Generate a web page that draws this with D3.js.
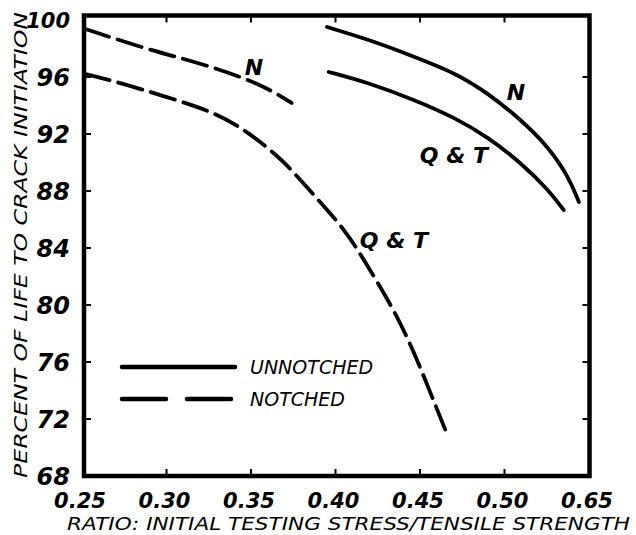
<!DOCTYPE html>
<html>
<head>
<meta charset="utf-8">
<script src="https://cdn.jsdelivr.net/npm/d3@7"></script>
<style>
  html, body { margin: 0; padding: 0; background: #fff; }
  svg text { font-family: "DejaVu Sans", sans-serif; font-style: italic; fill: #000; }
</style>
</head>
<body>
<svg id="chart" width="636" height="535"></svg>
<script>
// Stress ratio (initial testing stress / tensile strength)
const notchedN_x   = [0.252, 0.290, 0.320, 0.355, 0.374];
const notchedN_y   = [99.37, 97.89, 96.98, 95.58, 94.18];

const notchedQT_x  = [0.252, 0.271, 0.300, 0.330, 0.349, 0.369, 0.386, 0.406, 0.419, 0.434, 0.446, 0.456, 0.465];
const notchedQT_y  = [96.21, 95.65, 94.60, 93.47, 92.07, 90.18, 87.86, 85.26, 82.74, 79.79, 76.84, 73.89, 71.23];

const unnotchedN_x  = [0.395, 0.424, 0.447, 0.471, 0.490, 0.510, 0.526, 0.538, 0.544];
const unnotchedN_y  = [99.51, 98.46, 97.40, 96.28, 94.88, 92.98, 91.09, 88.98, 87.23];

const unnotchedQT_x = [0.396, 0.418, 0.447, 0.471, 0.490, 0.510, 0.526, 0.535];
const unnotchedQT_y = [96.35, 95.65, 94.39, 93.12, 91.79, 89.96, 88.07, 86.67];

// Axis ticks and their printed labels
const xTickValues = [0.25, 0.30, 0.35, 0.40, 0.45, 0.50, 0.55];
const xTickLabels = ["0.25", "0.30", "0.35", "0.40", "0.45", "0.50", "0.65"];
const yTickValues = [68, 72, 76, 80, 84, 88, 92, 96, 100];

const legendLabels = ["UNNOTCHED", "NOTCHED"];

const svg = d3.select("#chart");

const x = d3.scaleLinear().domain([0.25, 0.55]).range([82, 589]);
const y = d3.scaleLinear().domain([68, 100]).range([476, 20]);

const zip = (xs, ys) => xs.map((v, i) => [v, ys[i]]);
const line = d3.line().x(d => x(d[0])).y(d => y(d[1])).curve(d3.curveBasis);

// Frame
const fl = x(0.25) + 2, fr = x(0.55) + 0.5, ft = y(100) - 4.5, fb = y(68);
svg.append("path")
  .attr("d", `M${fl},${ft}H${fr}V${fb}H${fl}Z`)
  .attr("fill", "none").attr("stroke", "#000").attr("stroke-width", 4.5)
  .attr("stroke-linejoin", "miter");

// Inward tick marks on all four sides
const tickLen = 7;
const innerX = xTickValues.slice(1, -1);
const innerY = yTickValues.slice(1, -1);
const tg = svg.append("g").attr("stroke", "#000").attr("stroke-width", 2);
innerX.forEach(v => {
  tg.append("line").attr("x1", x(v)).attr("x2", x(v)).attr("y1", fb).attr("y2", fb - tickLen);
  tg.append("line").attr("x1", x(v)).attr("x2", x(v)).attr("y1", ft).attr("y2", ft + tickLen);
});
innerY.forEach(v => {
  tg.append("line").attr("y1", y(v)).attr("y2", y(v)).attr("x1", fl).attr("x2", fl + tickLen);
  tg.append("line").attr("y1", y(v)).attr("y2", y(v)).attr("x1", fr).attr("x2", fr - tickLen);
});

// Y tick labels
svg.append("g").selectAll("text").data(yTickValues).join("text")
  .attr("x", 70).attr("y", d => y(d))
  .attr("dy", "0.36em")
  .attr("text-anchor", "end")
  .attr("font-size", d => d === 100 ? 21 : 24)
  .attr("font-weight", "bold")
  .text(d => d);

// X tick labels
svg.append("g").selectAll("text").data(xTickValues).join("text")
  .attr("x", d => x(d) - 2).attr("y", 508)
  .attr("text-anchor", "middle")
  .attr("font-size", 21)
  .attr("font-weight", "bold")
  .text((d, i) => xTickLabels[i]);

// Axis titles
svg.append("text")
  .attr("x", 67).attr("y", 530)
  .attr("font-size", 18)
  .attr("textLength", 563).attr("lengthAdjust", "spacingAndGlyphs")
  .text("RATIO: INITIAL TESTING STRESS/TENSILE STRENGTH");

svg.append("text")
  .attr("transform", "translate(27,478) rotate(-90)")
  .attr("font-size", 18)
  .attr("textLength", 466).attr("lengthAdjust", "spacingAndGlyphs")
  .text("PERCENT OF LIFE TO CRACK INITIATION");

// Curves
const curveDash = "25,9";
const series = [
  { pts: zip(notchedN_x, notchedN_y), dash: curveDash },
  { pts: zip(notchedQT_x, notchedQT_y), dash: curveDash },
  { pts: zip(unnotchedN_x, unnotchedN_y), dash: null },
  { pts: zip(unnotchedQT_x, unnotchedQT_y), dash: null }
];
svg.append("g").selectAll("path").data(series).join("path")
  .attr("d", d => line(d.pts))
  .attr("fill", "none").attr("stroke", "#000").attr("stroke-width", 3.8)
  .attr("stroke-linecap", "round")
  .attr("stroke-dasharray", d => d.dash);

// Curve labels
const curveLabels = [
  { t: "N", vx: 0.3518, vy: 96.15 },
  { t: "N", vx: 0.5068, vy: 94.4 },
  { t: "Q & T", vx: 0.4701, vy: 89.95 },
  { t: "Q & T", vx: 0.4346, vy: 84.0 }
];
svg.append("g").selectAll("text").data(curveLabels).join("text")
  .attr("x", d => x(d.vx)).attr("y", d => y(d.vy))
  .attr("text-anchor", "middle")
  .attr("font-size", 22)
  .attr("font-weight", "bold")
  .text(d => d.t);

// Legend
const lg = svg.append("g");
[0, 1].forEach(i => {
  const ly = 367 + i * 32;
  lg.append("line").attr("x1", 122).attr("x2", 235).attr("y1", ly).attr("y2", ly)
    .attr("stroke", "#000").attr("stroke-width", 4.5).attr("stroke-linecap", "round")
    .attr("stroke-dasharray", i === 1 ? "44,21" : null);
  lg.append("text").attr("x", 250).attr("y", ly).attr("dy", "0.36em")
    .attr("font-size", 19)
    .text(legendLabels[i]);
});
</script>
</body>
</html>
